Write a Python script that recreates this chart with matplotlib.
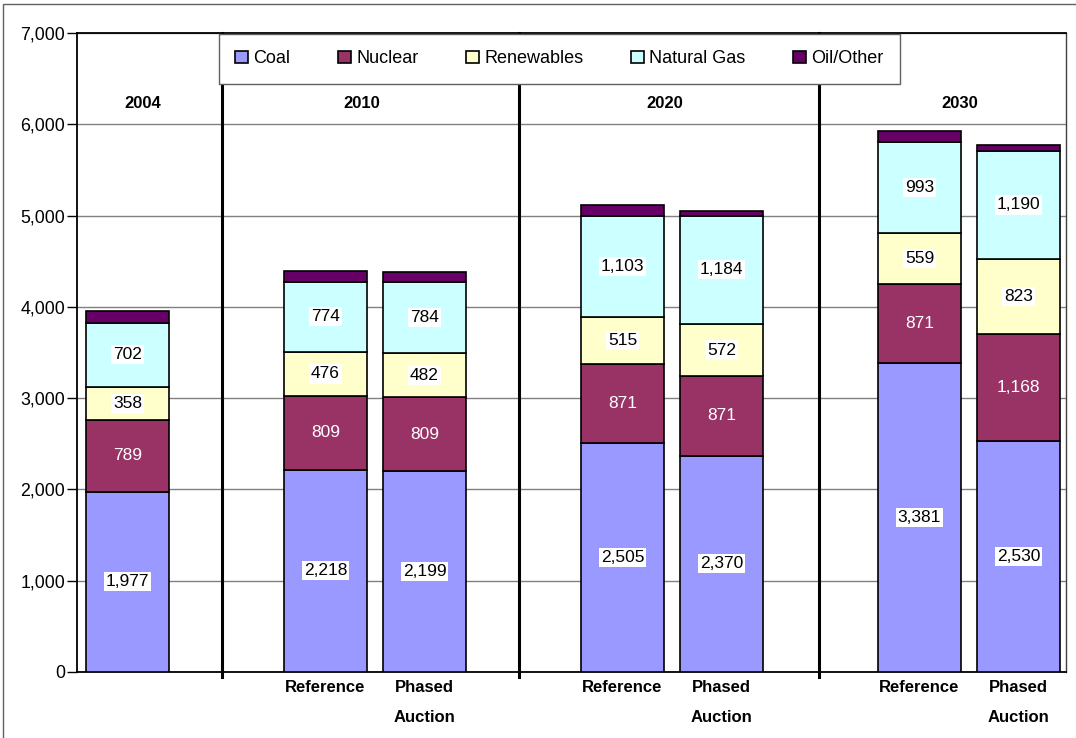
import numpy as np
import matplotlib
matplotlib.use('Agg')
import matplotlib.pyplot as plt
from matplotlib.patches import Rectangle
from matplotlib.ticker import FuncFormatter

plt.rcParams['font.family'] = ['Liberation Sans', 'DejaVu Sans']

# Datos (GW)
years = ['2004', '2010', '2020', '2030']
bar_labels = ['', 'Reference', 'Phased\nAuction', 'Reference', 'Phased\nAuction', 'Reference', 'Phased\nAuction']
coal = [1977, 2218, 2199, 2505, 2370, 3381, 2530]
nuclear = [789, 809, 809, 871, 871, 871, 1168]
renewables = [358, 476, 482, 515, 572, 559, 823]
natural_gas = [702, 774, 784, 1103, 1184, 993, 1190]
oil_other = [125, 113, 113, 122, 58, 125, 60]

series = [('Coal', coal, '#9999FF'),
          ('Nuclear', nuclear, '#993366'),
          ('Renewables', renewables, '#FFFFCC'),
          ('Natural Gas', natural_gas, '#CCFFFF'),
          ('Oil/Other', oil_other, '#660066')]

# posiciones de categoria (huecos en 1, 4, 7)
xpos = np.array([0, 2, 3, 5, 6, 8, 9])
dividers = [0.95, 3.95, 6.98]
year_x = [0.15, 2.37, 5.43, 8.41]

fig = plt.figure(figsize=(10.76, 7.38), dpi=100)
ax = fig.add_axes([77/1076, 1-672/738, (1066-77)/1076, (672-33)/738])

bottom = np.zeros(len(xpos))
for name, vals, col in series:
    vals = np.array(vals, dtype=float)
    ax.bar(xpos, vals, bottom=bottom, width=0.84, color=col, edgecolor='black',
           linewidth=1.2, label=name, zorder=3)
    if name != 'Oil/Other':
        for x, b, v in zip(xpos, bottom, vals):
            txt = f"{int(v):,}"
            if name == 'Nuclear':
                ax.text(x, b + v/2, txt, ha='center', va='center', fontsize=12.5,
                        color='white', zorder=5)
            else:
                ax.text(x, b + v/2, txt, ha='center', va='center', fontsize=12.5,
                        color='black', zorder=5,
                        bbox=dict(facecolor='white', edgecolor='none', pad=1.5))
    bottom += vals

ax.set_xlim(-0.51, 9.48)
ax.set_ylim(0, 7000)
ax.set_yticks(np.arange(0, 7001, 1000))
ax.yaxis.set_major_formatter(FuncFormatter(lambda v, p: f"{int(v):,}"))
ax.tick_params(axis='y', labelsize=12.8, length=7, width=1, pad=1.5)
ax.grid(axis='y', color='#808080', linewidth=1, zorder=0)
ax.set_axisbelow(True)

ax.set_xticks(xpos)
ax.set_xticklabels(bar_labels, fontsize=12, fontweight='bold', linespacing=2.2, va='top')
ax.tick_params(axis='x', length=0, pad=6)

for d in dividers:
    ax.plot([d, d], [-50, 7000], color='black', linewidth=2.2, clip_on=False, zorder=4)

for x, y in zip(year_x, years):
    ax.text(x, 6233, y, ha='center', va='center', fontsize=12, fontweight='bold', zorder=4)

for s in ['left', 'bottom', 'top']:
    ax.spines[s].set_color('black')
    ax.spines[s].set_linewidth(1.3)
ax.spines['right'].set_color('#404040')
ax.spines['right'].set_linewidth(1)

leg = ax.legend(loc='upper left', ncol=5, fontsize=13,
                bbox_to_anchor=(219/1076, 1-34/738),
                bbox_transform=fig.transFigure, borderaxespad=0, borderpad=0.9,
                handlelength=0.7, handleheight=0.7, handletextpad=0.3, columnspacing=2.65,
                fancybox=False, framealpha=1, edgecolor='#606060')
leg.get_frame().set_linewidth(1)
leg.set_zorder(10)

fig.patches.append(Rectangle((3/1076, -0.02), 1.1, 1-4/738+0.02, transform=fig.transFigure,
                             fill=False, edgecolor='#606060', linewidth=1))

plt.savefig('out.png', dpi=100)
